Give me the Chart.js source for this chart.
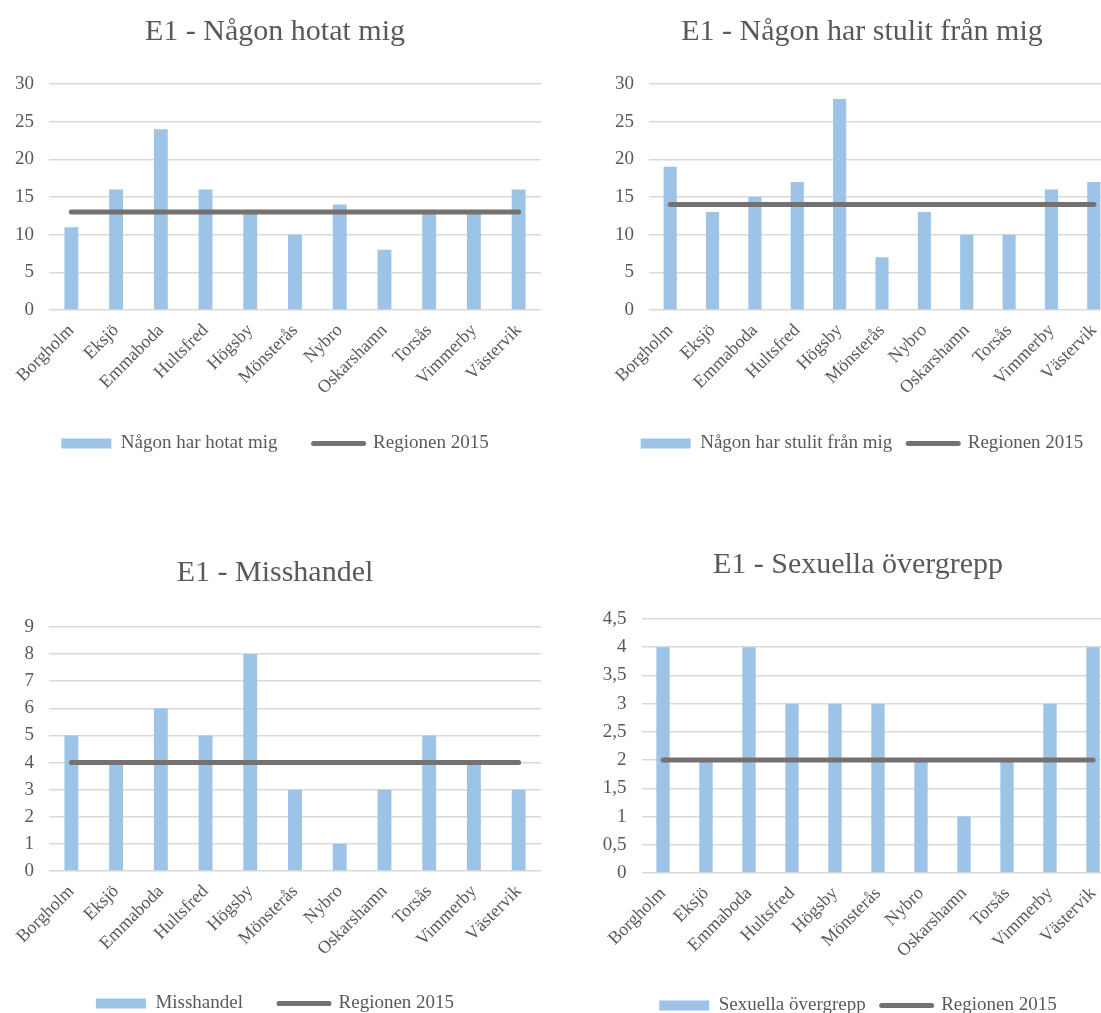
<!DOCTYPE html>
<html>
<head>
<meta charset="utf-8">
<script src="https://cdn.jsdelivr.net/npm/chart.js@4"></script>
<style>
  html, body { margin: 0; padding: 0; background: #fff; overflow: hidden; }
  body { width: 1101px; height: 1013px; position: relative; }
  canvas { position: absolute; }
</style>
</head>
<body>
<canvas id="c1"></canvas>
<canvas id="c2"></canvas>
<canvas id="c3"></canvas>
<canvas id="c4"></canvas>
<script>
// kommuner på x-axeln
const kommuner = ['Borgholm', 'Eksjö', 'Emmaboda', 'Hultsfred', 'Högsby', 'Mönsterås',
  'Nybro', 'Oskarshamn', 'Torsås', 'Vimmerby', 'Västervik'];

// E1 - Någon hotat mig
const hotat = [11, 16, 24, 16, 13, 10, 14, 8, 13, 13, 16];
const hotatRegion = [13, 13, 13, 13, 13, 13, 13, 13, 13, 13, 13];

// E1 - Någon har stulit från mig
const stulit = [19, 13, 15, 17, 28, 7, 13, 10, 10, 16, 17];
const stulitRegion = [14, 14, 14, 14, 14, 14, 14, 14, 14, 14, 14];

// E1 - Misshandel
const misshandel = [5, 4, 6, 5, 8, 3, 1, 3, 5, 4, 3];
const misshandelRegion = [4, 4, 4, 4, 4, 4, 4, 4, 4, 4, 4];

// E1 - Sexuella övergrepp
const sexuella = [4, 2, 4, 3, 3, 3, 2, 1, 2, 3, 4];
const sexuellaRegion = [2, 2, 2, 2, 2, 2, 2, 2, 2, 2, 2];

// y-axlar: [max, steg]
const hotatAxis = [30, 5];
const stulitAxis = [30, 5];
const misshandelAxis = [9, 1];
const sexuellaAxis = [4.5, 0.5];

const colors = {
  bar: '#9dc3e6',
  line: '#767171',
  grid: '#d9d9d9',
  text: '#595959'
};
const serif = "'Liberation Serif', 'Times New Roman', serif";

const makeChart = (id, box, title, barLabel, bars, region, axis) => {
  const canvas = document.getElementById(id);
  canvas.width = box.w;
  canvas.height = box.h;
  canvas.style.left = box.x + 'px';
  canvas.style.top = box.y + 'px';

  new Chart(canvas, {
    type: 'bar',
    data: {
      labels: kommuner,
      datasets: [{
        type: 'bar',
        label: barLabel,
        data: bars,
        backgroundColor: colors.bar,
        categoryPercentage: 1,
        barPercentage: 0.31,
        order: 1
      }, {
        type: 'line',
        label: 'Regionen 2015',
        data: region,
        borderColor: colors.line,
        backgroundColor: colors.line,
        borderWidth: 5,
        borderCapStyle: 'round',
        pointRadius: 0,
        tension: 0,
        order: 0
      }]
    },
    options: {
      responsive: false,
      animation: false,
      layout: { padding: { left: box.pl, right: box.pr, top: 0, bottom: 0 } },
      plugins: {
        tooltip: { enabled: false },
        title: {
          display: true,
          text: title,
          color: colors.text,
          font: { family: serif, size: 30, weight: 'normal' },
          padding: { top: box.pt, bottom: box.pb }
        },
        legend: {
          position: 'bottom',
          labels: {
            usePointStyle: true,
            pointStyleWidth: 50,
            boxHeight: 10,
            padding: box.lp,
            color: colors.text,
            font: { family: serif, size: 19 },
            sort: (a, b) => a.datasetIndex - b.datasetIndex,
            generateLabels: chart => chart.data.datasets.map((ds, i) => ({
              text: ds.label,
              datasetIndex: i,
              fillStyle: ds.type === 'line' ? ds.borderColor : ds.backgroundColor,
              strokeStyle: ds.type === 'line' ? ds.borderColor : ds.backgroundColor,
              lineWidth: ds.type === 'line' ? 5 : 0,
              lineCap: 'round',
              pointStyle: ds.type === 'line' ? 'line' : 'rect',
              fontColor: colors.text,
              hidden: false
            }))
          }
        }
      },
      scales: {
        x: {
          grid: { display: false },
          border: { display: false },
          ticks: {
            color: colors.text,
            font: { family: serif, size: 18 },
            minRotation: 45,
            maxRotation: 45,
            autoSkip: false,
            padding: 2
          },
          afterFit: s => { s.height = box.xh; }
        },
        y: {
          min: 0,
          max: axis[0],
          border: { display: false },
          grid: { color: colors.grid, lineWidth: 1.5, drawTicks: false },
          ticks: {
            stepSize: axis[1],
            color: colors.text,
            font: { family: serif, size: 19 },
            padding: 15,
            callback: v => String(v).replace('.', ',')
          },
          afterFit: s => { s.width = 40; }
        }
      }
    }
  });
};

window.addEventListener('DOMContentLoaded', () => {
  makeChart('c1', { x: 0, y: 0, w: 565, h: 463, pl: 9, pr: 24, pt: 14, pb: 34, xh: 88, lp: 36 },
    'E1 - Någon hotat mig', 'Någon har hotat mig', hotat, hotatRegion, hotatAxis);
  makeChart('c2', { x: 600, y: 0, w: 536, h: 463, pl: 9, pr: 21, pt: 14, pb: 34, xh: 108, lp: 16 },
    'E1 - Någon har stulit från mig', 'Någon har stulit från mig', stulit, stulitRegion, stulitAxis);
  makeChart('c3', { x: 0, y: 530, w: 565, h: 493, pl: 9, pr: 24, pt: 25, pb: 36, xh: 87, lp: 36 },
    'E1 - Misshandel', 'Misshandel', misshandel, misshandelRegion, misshandelAxis);
  makeChart('c4', { x: 595, y: 520, w: 542, h: 505, pl: 6.5, pr: 22.5, pt: 27, pb: 36, xh: 107, lp: 16 },
    'E1 - Sexuella övergrepp', 'Sexuella övergrepp', sexuella, sexuellaRegion, sexuellaAxis);
});
</script>
</body>
</html>
